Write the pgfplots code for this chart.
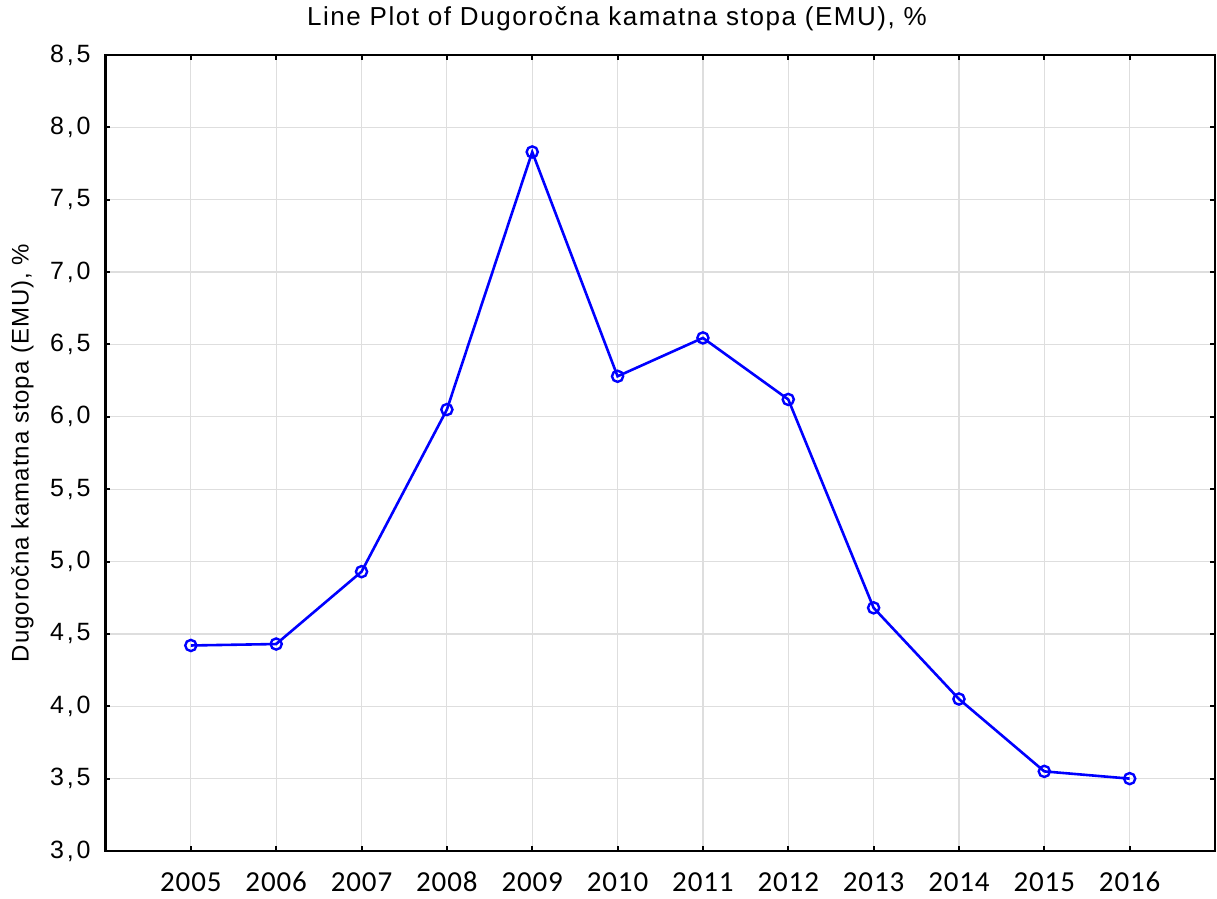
\documentclass[border=0pt]{standalone}
\usepackage{fontspec}
\setmainfont{Liberation Sans}
\newfontfamily\carlito[LetterSpace=3]{Carlito}
\newfontfamily\titlefont[LetterSpace=6]{Liberation Sans}
\newfontfamily\ylabfont[LetterSpace=4]{Liberation Sans}
\newfontfamily\ytickfont[LetterSpace=11]{Liberation Sans}
\usepackage{pgfplots}
\pgfplotsset{compat=1.18}
\begin{document}
\begin{tikzpicture}
\useasboundingbox (-52.75pt,-24pt) rectangle (555.75pt,425.5pt);
\begin{axis}[
  scale only axis,
  width=554.75pt, height=398pt,
  xmin=2004, xmax=2017,
  ymin=3, ymax=8.5,
  xtick={2005,2006,2007,2008,2009,2010,2011,2012,2013,2014,2015,2016},
  xticklabels={2005,2006,2007,2008,2009,2010,2011,2012,2013,2014,2015,2016},
  ytick={3,3.5,...,8.5},
  tick align=inside,
  major tick length=2.5pt,
  every tick/.style={black, line width=1pt},
  axis line style={black, line width=1.1pt},
  grid=major,
  major grid style={color={rgb,255:red,222;green,222;blue,222}, line width=0.6pt},
  /pgf/number format/.cd, use comma, fixed, fixed zerofill, precision=1, assume math mode=true,
  /pgfplots/.cd,
  yticklabel style={font=\ytickfont\fontsize{12.5}{14}\selectfont, xshift=-4pt},
  xticklabel style={font=\carlito\fontsize{14.5}{16}\selectfont, anchor=base, yshift=-20.5pt},
  clip=false,
]
\addplot[color={rgb,255:red,0;green,0;blue,255}, line width=1.3pt, mark=o,
  mark options={line width=1.2pt, scale=1.4}]
  coordinates {
  (2005,4.42) (2006,4.43) (2007,4.93) (2008,6.05) (2009,7.83) (2010,6.28)
  (2011,6.545) (2012,6.12) (2013,4.68) (2014,4.05) (2015,3.55) (2016,3.50)
  };
\end{axis}
\node[font=\titlefont\fontsize{13}{15}\selectfont] at (255.75pt,416pt) {Line Plot of Dugoročna kamatna stopa (EMU), \%};
\node[rotate=90, font=\ylabfont\fontsize{12}{14}\selectfont] at (-41.5pt,199pt) {Dugoročna kamatna stopa (EMU), \%};
\end{tikzpicture}
\end{document}
